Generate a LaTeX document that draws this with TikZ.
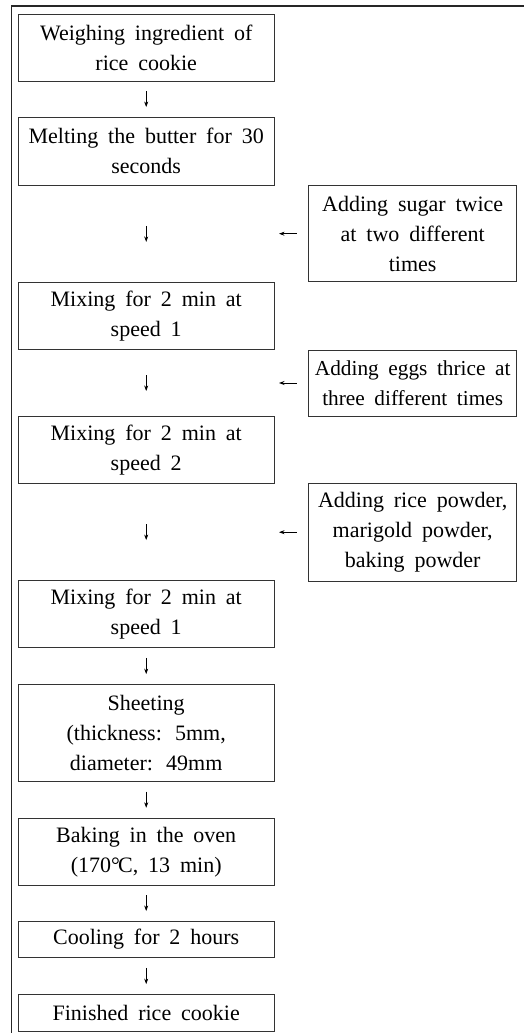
\documentclass[tikz,border=0pt]{standalone}
\usepackage{fontspec}
\setmainfont{Liberation Serif}[WordSpace=1.8]
\usetikzlibrary{arrows.meta}
\begin{document}
\begin{tikzpicture}[x=1pt,y=-1pt,
  box/.style={draw=black!80, line width=0.9pt, align=center, inner sep=0pt,
    font=\fontsize{22}{30}\selectfont},
  lbox/.style={box, minimum width=255.7pt},
  rbox/.style={box, minimum width=208pt},
  arr/.style={line width=0.75pt, -{Stealth[length=5.5pt,width=4pt]}}]
\useasboundingbox (0,0) rectangle (524,1033);
\draw[line width=1.1pt, black!85] (524,6) -- (11.7,6) -- (11.7,1033);

\node[lbox, minimum height=66.7pt] (b1) at (146.2,47.7) {Weighing ingredient of\\rice cookie};
\node[lbox, minimum height=68pt] (b2) at (146.2,151) {Melting the butter for 30\\seconds};
\node[lbox, minimum height=66.7pt] (b3) at (146.2,316) {Mixing for 2 min at\\speed 1};
\node[lbox, minimum height=66.7pt] (b4) at (146.2,450) {Mixing for 2 min at\\speed 2};
\node[lbox, minimum height=67pt] (b5) at (146.2,614.2) {Mixing for 2 min at\\speed 1};
\node[lbox, minimum height=96.7pt] (b6) at (146.2,732.7) {Sheeting\\(thickness:\kern0.15em\ 5mm,\\diameter:\kern0.15em\ 49mm};
\node[lbox, minimum height=66.7pt] (b7) at (146.2,851.7) {Baking in the oven\\(170°\kern-0.08em C, 13 min)};
\node[lbox, minimum height=36.7pt] (b8) at (146.2,939.3) {Cooling for 2 hours};
\node[lbox, minimum height=36.7pt] (b9) at (146.2,1012.7) {Finished rice cookie};

\node[rbox, minimum height=96pt] (r1) at (412.7,233.7) {Adding sugar twice\\at two different\\times};
\node[rbox, minimum height=66pt, font=\fontsize{21.3}{30}\selectfont] (r2) at (412.7,383) {Adding eggs thrice at\\three different times};
\node[rbox, minimum height=97.7pt] (r3) at (412.7,532.2) {Adding rice powder,\\marigold powder,\\baking powder};

\draw[arr, shorten <=9.5pt, shorten >=9.5pt] (b1) -- (b2);
\draw[arr, shorten <=40.3pt, shorten >=40.3pt] (b2) -- (b3);
\draw[arr, shorten <=25.2pt, shorten >=25.2pt] (b3) -- (b4);
\draw[arr, shorten <=40.2pt, shorten >=40.2pt] (b4) -- (b5);
\draw[arr, shorten <=9.8pt, shorten >=9.8pt] (b5) -- (b6);
\draw[arr, shorten <=10.1pt, shorten >=10.1pt] (b6) -- (b7);
\draw[arr, shorten <=9.5pt, shorten >=9.5pt] (b7) -- (b8);
\draw[arr, shorten <=9.8pt, shorten >=9.8pt] (b8) -- (b9);

\coordinate (a1) at (279,233.7);
\coordinate (a2) at (279,383);
\coordinate (a3) at (279,532.2);
\draw[arr, shorten <=11.7pt] (r1.west) -- (a1);
\draw[arr, shorten <=11.7pt] (r2.west) -- (a2);
\draw[arr, shorten <=11.7pt] (r3.west) -- (a3);
\end{tikzpicture}
\end{document}
